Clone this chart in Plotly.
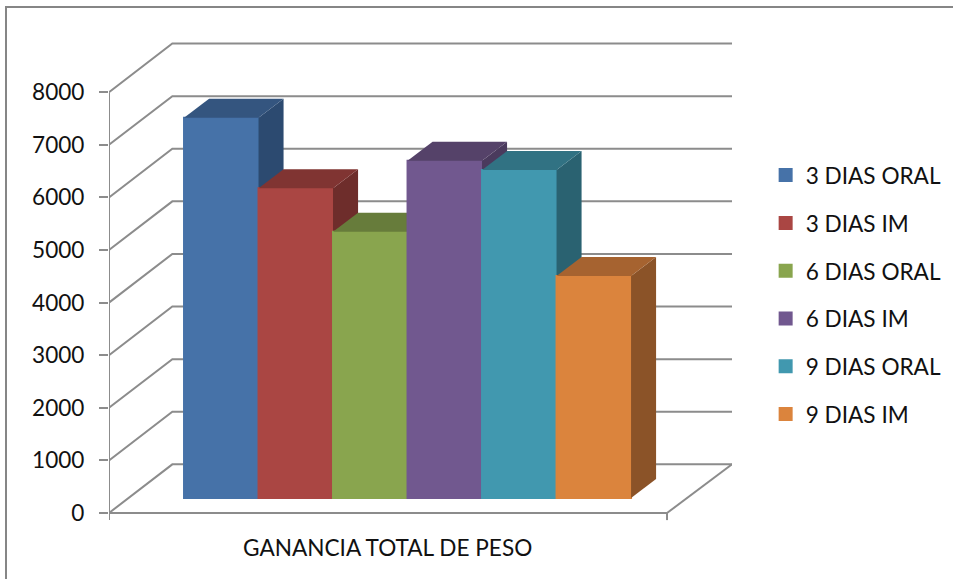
import plotly.graph_objects as go

CATEGORY = "GANANCIA TOTAL DE PESO"
SERIES = ["3 DIAS ORAL", "3 DIAS IM", "6 DIAS ORAL", "6 DIAS IM", "9 DIAS ORAL", "9 DIAS IM"]
VALUES = [7230, 5888, 5063, 6413, 6236, 4221]
FRONT = ["#4672A8", "#AA4643", "#89A54E", "#71588F", "#4198AF", "#DB843D"]
TOP = ["#34557F", "#803432", "#677C3B", "#554269", "#317283", "#A66330"]
SIDE = ["#2C4A70", "#6E2D2B", "#596C33", "#4A3A5D", "#2A6271", "#8B5328"]
Y_TICKS = [0, 1000, 2000, 3000, 4000, 5000, 6000, 7000, 8000]

# Fake-3D geometry, in axis units
X_MAX = 8.362
Y_MIN, Y_MAX = -152, 8992.4
FRONT_RIGHT = 7.49
WALL_DX, WALL_DY = 0.85, 925
BAR_LEFT, BAR_BASE = 1.007, 285
DEPTH_DX, DEPTH_DY = 0.336, 361
X_TICK_LOW = -135
GRID = "#8C8C8C"
FONT = "Lato"
SIZE = 22.6

fig = go.Figure()

# Walls, floor, the y axis line and the two x tick marks
gx, gy = [], []
for v in Y_TICKS:
    gx += [0, WALL_DX, X_MAX, None]
    gy += [v, v + WALL_DY, v + WALL_DY, None]
gx += [FRONT_RIGHT, X_MAX, None, 0, 0, None, 0, FRONT_RIGHT, None, FRONT_RIGHT, FRONT_RIGHT]
gy += [0, WALL_DY, None, X_TICK_LOW, Y_TICKS[-1], None, 0, 0, None, 0, X_TICK_LOW]
fig.add_trace(go.Scatter(x=gx, y=gy, mode="lines", line=dict(color=GRID, width=2),
                         showlegend=False, hoverinfo="skip", cliponaxis=False))

# One overlaid subplot per bar so each one paints over the previous bar's depth faces
for i, (name, value) in enumerate(zip(SERIES, VALUES)):
    ax = str(i + 2)
    left, right = BAR_LEFT + i, BAR_LEFT + i + 1
    top = BAR_BASE + value
    fig.add_trace(go.Bar(x=[left + 0.5], y=[value], base=[BAR_BASE], width=[1], name=name,
                         marker=dict(color=FRONT[i], line=dict(width=2, color=FRONT[i])),
                         xaxis="x" + ax, yaxis="y" + ax, legendgroup=name))
    fig.add_trace(go.Scatter(
        x=[right, right + DEPTH_DX, right + DEPTH_DX, right, right],
        y=[BAR_BASE, BAR_BASE + DEPTH_DY, top + DEPTH_DY, top, BAR_BASE],
        mode="lines", fill="toself", fillcolor=SIDE[i], line=dict(width=0),
        xaxis="x" + ax, yaxis="y" + ax, showlegend=False, hoverinfo="skip"))
    fig.add_trace(go.Scatter(
        x=[left, right, right + DEPTH_DX, left + DEPTH_DX, left],
        y=[top, top, top + DEPTH_DY, top + DEPTH_DY, top],
        mode="lines", fill="toself", fillcolor=TOP[i], line=dict(width=0),
        xaxis="x" + ax, yaxis="y" + ax, showlegend=False, hoverinfo="skip"))

layout = dict(
    width=953, height=579,
    margin=dict(l=109, r=221, t=40, b=58, autoexpand=False),
    paper_bgcolor="white", plot_bgcolor="white",
    showlegend=True,
    font=dict(family=FONT, size=SIZE, color="#111111"),
    legend=dict(x=1.054, y=0.47, xanchor="left", yanchor="middle", tracegroupgap=15.4,
                bgcolor="rgba(0,0,0,0)", itemclick=False, itemdoubleclick=False,
                font=dict(family=FONT, size=SIZE)),
    xaxis=dict(range=[0, X_MAX], showticklabels=False, ticks="", showgrid=False,
               zeroline=False, showline=False),
    yaxis=dict(range=[Y_MIN, Y_MAX], tickvals=Y_TICKS, ticks="outside", ticklen=9, tickwidth=2,
               tickcolor=GRID, showgrid=False, zeroline=False, showline=False,
               ticklabelstandoff=10, tickfont=dict(family=FONT, size=SIZE)),
    shapes=[dict(type="rect", xref="paper", yref="paper", x0=(6 - 109) / 623, x1=1.6,
                 y0=-0.5, y1=(521 - 7) / 481, line=dict(color="#868686", width=2), layer="below")],
)
for i in range(len(SERIES)):
    ax = str(i + 2)
    layout["xaxis" + ax] = dict(overlaying="x", range=[0, X_MAX], visible=False, side="bottom")
    layout["yaxis" + ax] = dict(overlaying="y", range=[Y_MIN, Y_MAX], visible=False)
# The category label sits on the first overlay axis so that it has no tick mark
layout["xaxis2"] = dict(overlaying="x", range=[0, X_MAX], side="bottom", tickvals=[3.74],
                        ticktext=[CATEGORY], ticks="", showgrid=False, zeroline=False, showline=False,
                        ticklabelstandoff=11, tickfont=dict(family=FONT, size=SIZE))
fig.update_layout(**layout)
fig.write_html("out.html", config={"displayModeBar": False},
               post_script="document.body.style.margin='0';document.documentElement.style.overflow='hidden';")
